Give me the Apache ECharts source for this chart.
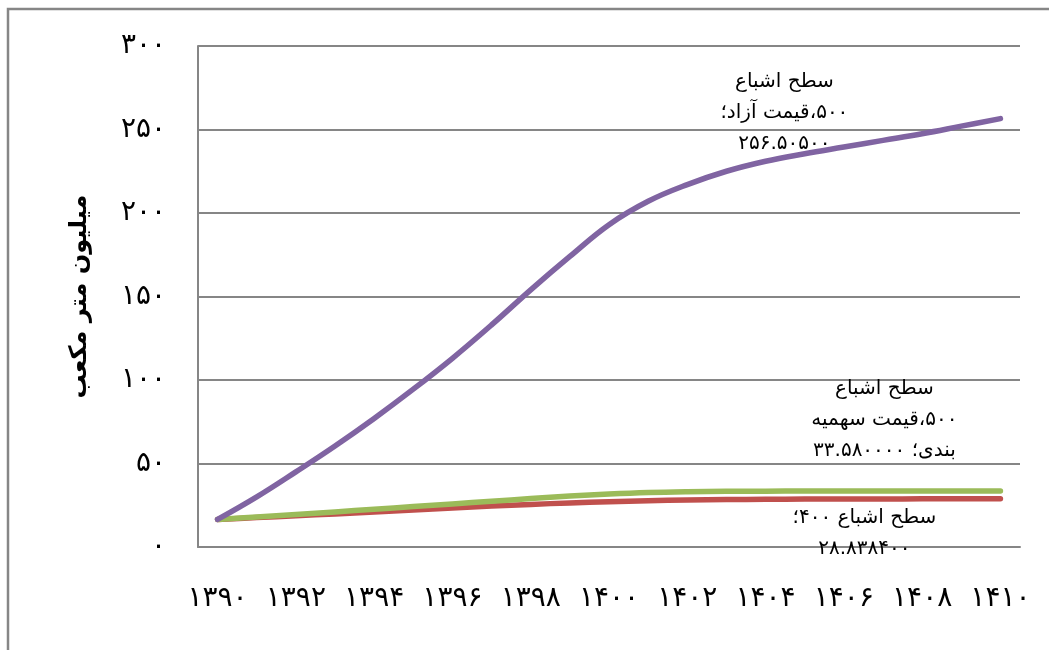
<!DOCTYPE html>
<html>
<head>
<meta charset="utf-8">
<script src="https://cdn.jsdelivr.net/npm/echarts@6/dist/echarts.min.js"></script>
<style>
  html, body { margin: 0; padding: 0; background: #fff; }
  #chart { width: 1049px; height: 650px; direction: rtl; }
</style>
</head>
<body>
<div id="chart"></div>
<script>
// Years (categories), Persian digits
const categories = ['۱۳۹۰','۱۳۹۱','۱۳۹۲','۱۳۹۳','۱۳۹۴','۱۳۹۵','۱۳۹۶','۱۳۹۷','۱۳۹۸','۱۳۹۹','۱۴۰۰',
                    '۱۴۰۱','۱۴۰۲','۱۴۰۳','۱۴۰۴','۱۴۰۵','۱۴۰۶','۱۴۰۷','۱۴۰۸','۱۴۰۹','۱۴۱۰'];
// Y tick labels (0..300 step 50)
const yTickLabels = ['۰','۵۰','۱۰۰','۱۵۰','۲۰۰','۲۵۰','۳۰۰'];
const yAxisTitle = 'میلیون متر مکعب';

// Series values
const saturation400 = [16.5, 17.6, 18.7, 19.8, 21.0, 22.2, 23.4, 24.5, 25.5, 26.4, 27.1,
                       27.7, 28.1, 28.4, 28.6, 28.7, 28.77, 28.8, 28.82, 28.83, 28.8384];
const saturation500Quota = [16.5, 18.0, 19.5, 21.0, 22.6, 24.2, 25.8, 27.4, 29.0, 30.5, 31.7,
                            32.6, 33.1, 33.35, 33.45, 33.5, 33.53, 33.55, 33.57, 33.58, 33.58];
const saturation500Free = [16.5, 30, 45, 60.5, 77, 94.5, 113, 133, 154, 174, 193,
                           207, 217, 225, 231, 235.5, 239.5, 243.5, 247.5, 252, 256.505];

// Data label texts (on last point of each series)
const label400 = ['سطح اشباع ۴۰۰؛', '۲۸.۸۳۸۴۰۰'];
const label500Quota = ['سطح اشباع', '۵۰۰،قیمت سهمیه', 'بندی؛ ۳۳.۵۸۰۰۰۰'];
const label500Free = ['سطح اشباع', '۵۰۰،قیمت آزاد؛', '۲۵۶.۵۰۵۰۰'];

const FONT = "'DejaVu Sans', sans-serif";

function buildData(values, labelLines, offset) {
  const last = values.length - 1;
  return values.map((v, i) => i === last ? {
    value: v,
    label: {
      show: true,
      position: 'inside',
      align: 'center',
      verticalAlign: 'middle',
      offset: offset,
      formatter: labelLines.join('\n'),
      color: '#000',
      fontFamily: FONT,
      fontSize: 20,
      lineHeight: 31
    }
  } : v);
}

function lineSeries(name, values, color, labelLines, offset) {
  return {
    name: name,
    type: 'line',
    smooth: 0.4,
    symbol: 'circle',
    symbolSize: 1,
    showSymbol: true,
    itemStyle: { color: 'transparent', borderWidth: 0 },
    lineStyle: { color: color, width: 5.5, cap: 'round', join: 'round' },
    emphasis: { disabled: true },
    animation: false,
    data: buildData(values, labelLines, offset)
  };
}

const chart = echarts.init(document.getElementById('chart'), null, { renderer: 'canvas' });
chart.setOption({
  backgroundColor: '#fff',
  animation: false,
  graphic: [{
    type: 'rect',
    shape: { x: 8, y: 9, width: 1200, height: 800 },
    style: { fill: 'none', stroke: '#868686', lineWidth: 2.5 },
    silent: true
  }],
  grid: { left: 198, top: 46, right: 29, bottom: 103, containLabel: false },
  xAxis: {
    type: 'category',
    data: categories,
    boundaryGap: true,
    axisLine: { show: true, lineStyle: { color: '#868686', width: 2 } },
    axisTick: { show: false },
    axisLabel: {
      interval: 1,
      margin: 38,
      color: '#000',
      fontFamily: FONT,
      fontSize: 28
    },
    splitLine: { show: false }
  },
  yAxis: {
    type: 'value',
    min: 0,
    max: 300,
    interval: 50,
    name: yAxisTitle,
    nameLocation: 'middle',
    nameRotate: 90,
    nameGap: 106,
    nameTextStyle: { color: '#000', fontFamily: FONT, fontSize: 24, fontWeight: 'bold' },
    axisLine: { show: true, lineStyle: { color: '#868686', width: 2 } },
    axisTick: { show: false },
    axisLabel: {
      margin: 32,
      color: '#000',
      fontFamily: FONT,
      fontSize: 28,
      formatter: (v) => yTickLabels[Math.round(v / 50)]
    },
    splitLine: { show: true, lineStyle: { color: '#868686', width: 2 } }
  },
  series: [
    lineSeries('سطح اشباع ۴۰۰', saturation400, '#C0504D', label400, [-136, 34]),
    lineSeries('سطح اشباع ۵۰۰،قیمت سهمیه بندی', saturation500Quota, '#9BBB59', label500Quota, [-116, -71]),
    lineSeries('سطح اشباع ۵۰۰،قیمت آزاد', saturation500Free, '#8064A2', label500Free, [-216, -6])
  ]
});
</script>
</body>
</html>
